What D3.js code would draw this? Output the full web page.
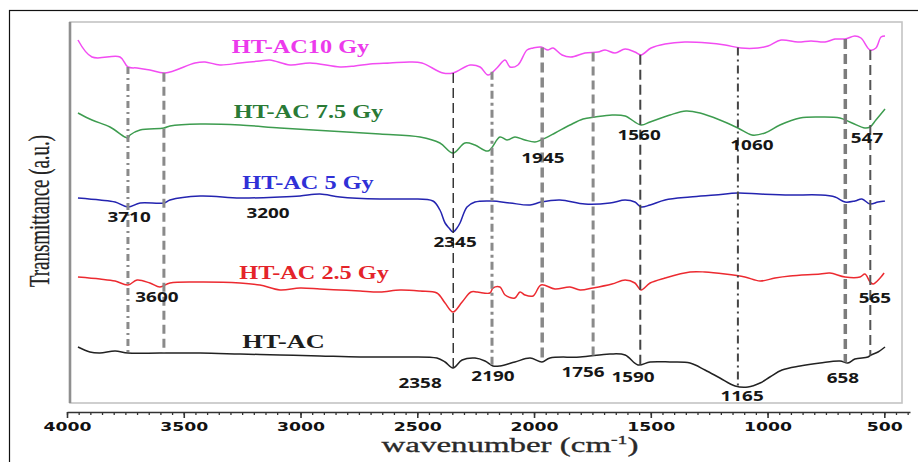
<!DOCTYPE html>
<html>
<head>
<meta charset="utf-8">
<script src="https://cdn.jsdelivr.net/npm/d3@7"></script>
<style>
  html, body { margin: 0; padding: 0; background: #fff; }
  svg { display: block; }
</style>
</head>
<body>
<svg id="chart" width="918" height="462"></svg>
<script>
// FTIR spectra of HT-AC samples: [wavenumber (cm^-1), offset transmittance (a.u.)]
const htAC10 = [[3953,363],[3893,346],[3773,346],[3739,336],[3700,335],[3645,333],[3580,330],[3452,340],[3409,341],[3345,338],[3259,340],[3174,342],[3131,343],[3045,338],[2959,340],[2831,336],[2767,337],[2702,339],[2617,340],[2531,341],[2480,340],[2390,330],[2347,330],[2274,338],[2231,336],[2197,328],[2159,335],[2124,343],[2103,336],[2069,338],[2030,353],[2004,355],[1970,356],[1940,353],[1919,355],[1880,348],[1842,346],[1782,350],[1726,351],[1696,353],[1653,350],[1610,354],[1568,351],[1542,348],[1499,355],[1439,359],[1354,361],[1255,360],[1182,358],[1114,355],[1041,355],[998,357],[942,363],[870,361],[814,362],[754,361],[711,364],[668,364],[626,367],[600,365],[561,353],[536,355],[514,366],[497,367]];
const htAC75 = [[3953,290],[3893,283],[3816,276],[3752,266],[3739,265],[3730,268],[3687,273],[3585,275],[3559,277],[3430,279],[3259,278],[3088,275],[2874,272],[2660,269],[2488,266],[2403,260],[2347,250],[2296,260],[2253,258],[2197,252],[2146,266],[2116,263],[2082,266],[2039,263],[1996,261],[1970,263],[1910,270],[1846,278],[1790,284],[1739,286],[1666,288],[1610,287],[1542,278],[1503,281],[1418,288],[1349,292],[1289,290],[1204,283],[1127,275],[1067,268],[1011,270],[947,278],[861,285],[775,286],[690,285],[638,280],[583,275],[561,276],[536,283],[497,294]];
const htAC5 = [[3953,205],[3859,203],[3794,201],[3739,196],[3687,200],[3585,200],[3559,203],[3430,207],[3259,205],[3088,206],[3002,207],[2917,209],[2831,206],[2660,204],[2531,204],[2433,202],[2403,193],[2381,180],[2364,175],[2347,171],[2330,175],[2317,180],[2287,196],[2253,201],[2180,202],[2103,200],[2017,198],[1970,201],[1889,203],[1782,199],[1675,200],[1610,203],[1568,201],[1542,196],[1503,198],[1439,203],[1332,206],[1225,208],[1127,210],[1032,209],[904,208],[775,208],[711,206],[668,201],[626,202],[596,204],[561,199],[527,201],[497,202]];
const htAC25 = [[3953,126],[3859,124],[3794,122],[3739,118],[3700,123],[3645,120],[3602,116],[3559,120],[3430,121],[3259,120],[3174,118],[3088,113],[3002,115],[2917,114],[2831,113],[2745,112],[2660,111],[2574,113],[2488,112],[2416,110],[2381,100],[2347,91],[2308,101],[2270,111],[2244,111],[2189,110],[2176,115],[2146,116],[2124,108],[2082,105],[2060,111],[2039,108],[2004,107],[1970,118],[1910,114],[1846,116],[1803,113],[1748,115],[1666,119],[1610,123],[1568,120],[1542,113],[1503,120],[1439,125],[1332,131],[1268,131],[1182,129],[1097,126],[1032,122],[968,125],[904,127],[775,129],[733,130],[668,126],[604,126],[583,129],[561,121],[548,119],[518,125],[501,130]];
const htAC = [[3953,56],[3902,51],[3859,50],[3794,52],[3739,50],[3602,50],[3430,50],[3259,49],[3088,48],[2917,47],[2745,46],[2574,46],[2416,45],[2381,41],[2347,35],[2308,43],[2253,45],[2210,42],[2176,37],[2146,37],[2082,41],[2017,45],[1966,41],[1932,45],[1803,46],[1675,49],[1610,48],[1555,38],[1503,41],[1418,41],[1332,40],[1268,33],[1204,25],[1139,17],[1084,16],[1032,20],[990,26],[938,33],[861,37],[775,40],[690,42],[656,40],[626,44],[570,46],[557,48],[527,51],[497,56]];

const seriesNames = ["HT-AC10 Gy", "HT-AC 7.5 Gy", "HT-AC 5 Gy", "HT-AC 2.5 Gy", "HT-AC"];
const seriesData = [htAC10, htAC75, htAC5, htAC25, htAC];
// where each series name sits, in data units [wavenumber, a.u.]
const seriesNameAt = [[3000,356],[2966,291],[2968,220],[2942,130],[3073,62]];

const xTickValues = [4000, 3500, 3000, 2500, 2000, 1500, 1000, 500];

// band positions marked across all spectra (cm^-1)
const bandLines = [3739, 3585, 2346, 2180, 1965, 1747, 1545, 1127, 667, 560];
// band assignments written next to the spectra: [text, wavenumber, a.u.]
const bandLabels = [
  ["3710", 3734, 186], ["3200", 3139, 190], ["3600", 3615, 106],
  ["2345", 2338, 161], ["2358", 2488, 20], ["2190", 2176, 27],
  ["1945", 1962, 245], ["1560", 1550, 268], ["1060", 1067, 258],
  ["547", 574, 265], ["565", 540, 105], ["1756", 1790, 31],
  ["1590", 1576, 26], ["1165", 1109, 7], ["658", 677, 25]
];

// ---- drawing ----
const seriesColor = ["#f24cf2", "#3d9c4f", "#2424b0", "#ec2a30", "#222222"];
const nameColor   = ["#ec3aec", "#2a7a36", "#3030d6", "#e4242a", "#1e1e1e"];
const nameSize    = [18, 18, 18, 18, 19.5];
const bandLook = [
  { c: "#8a8a8a", w: 3,   d: "7,4,2,4" },
  { c: "#8a8a8a", w: 3,   d: "9,5" },
  { c: "#2a2a2a", w: 1.4, d: "10,5" },
  { c: "#8a8a8a", w: 3,   d: "8,4,3,4" },
  { c: "#888888", w: 3.5, d: "10,5" },
  { c: "#8a8a8a", w: 3,   d: "9,5" },
  { c: "#444444", w: 2,   d: "10,5" },
  { c: "#444444", w: 2,   d: "8,4,2,4" },
  { c: "#7c7c7c", w: 3.5, d: "10,5" },
  { c: "#555555", w: 2,   d: "10,5" }
];
const stretch = 1.35;

const svg = d3.select("#chart");

const x = d3.scaleLinear().domain([4000, 390]).range([67, 910]);
const y = d3.scaleLinear().domain([0, 381]).range([403, 22]);

// outer frame (only top and left edges fall inside the page)
svg.append("rect")
  .attr("x", 9.5).attr("y", 10.5).attr("width", 1200).attr("height", 1200)
  .attr("fill", "none").attr("stroke", "#111").attr("stroke-width", 1.2);

// plot box
const [x0, x1] = [70, 902];
svg.append("rect")
  .attr("x", x0).attr("y", y(381)).attr("width", x1 - x0).attr("height", y(0) - y(381))
  .attr("fill", "none").attr("stroke", "#c4c4c4").attr("stroke-width", 1.6);
svg.append("line")
  .attr("x1", x0).attr("x2", x0).attr("y1", y(381)).attr("y2", y(0))
  .attr("stroke", "#8f8f8f").attr("stroke-width", 2.6);

// spectra
const line = d3.line()
  .x(d => x(d[0])).y(d => y(d[1]))
  .curve(d3.curveCatmullRom.alpha(0.5));

svg.append("g").selectAll("path")
  .data(seriesData)
  .join("path")
  .attr("d", line)
  .attr("fill", "none")
  .attr("stroke", (d, i) => seriesColor[i])
  .attr("stroke-width", 1.5)
  .attr("stroke-linejoin", "round");

// linear read-off of a spectrum at a given wavenumber
function valueAt(series, wn) {
  for (let i = 0; i < series.length - 1; i++) {
    const [a, va] = series[i], [b, vb] = series[i + 1];
    if ((wn <= a && wn >= b) || (wn >= a && wn <= b)) {
      return va + (vb - va) * (wn - a) / (b - a);
    }
  }
  return series[series.length - 1][1];
}

// band lines run from the top spectrum down to the bottom one
svg.append("g").selectAll("line")
  .data(bandLines)
  .join("line")
  .attr("x1", d => x(d)).attr("x2", d => x(d))
  .attr("y1", d => y(valueAt(htAC10, d)))
  .attr("y2", d => y(valueAt(htAC, d)))
  .attr("stroke", (d, i) => bandLook[i].c)
  .attr("stroke-width", (d, i) => bandLook[i].w)
  .attr("stroke-dasharray", (d, i) => bandLook[i].d);

// series names
svg.append("g").selectAll("text")
  .data(seriesNames)
  .join("text")
  .attr("transform", (d, i) => `translate(${x(seriesNameAt[i][0])},${y(seriesNameAt[i][1])}) scale(${stretch},1)`)
  .attr("text-anchor", "middle")
  .attr("dominant-baseline", "central")
  .attr("font-family", "'Liberation Serif', 'Times New Roman', serif")
  .attr("font-weight", "bold")
  .attr("font-size", (d, i) => nameSize[i])
  .attr("fill", (d, i) => nameColor[i])
  .text(d => d);

// band labels
svg.append("g").selectAll("text")
  .data(bandLabels)
  .join("text")
  .attr("transform", d => `translate(${x(d[1])},${y(d[2])}) scale(${stretch},1)`)
  .attr("text-anchor", "middle")
  .attr("dominant-baseline", "central")
  .attr("font-family", "'Open Sans', 'DejaVu Sans', sans-serif")
  .attr("font-weight", 700)
  .attr("font-size", 14)
  .attr("fill", "#161616")
  .text(d => d[0]);

// x axis
const axisY = 412;
const minor = svg.append("g").attr("transform", `translate(0,${axisY})`)
  .call(d3.axisBottom(x).tickValues(d3.range(4000, 389, -50)).tickSize(3).tickSizeOuter(0).tickFormat(""));
minor.select(".domain").remove();
minor.selectAll("line").attr("stroke", "#333").attr("stroke-width", 1.3);

const axis = svg.append("g").attr("transform", `translate(0,${axisY})`)
  .call(d3.axisBottom(x).tickValues(xTickValues).tickSize(6).tickSizeOuter(0).tickFormat(d3.format("d")));
axis.select(".domain").attr("stroke", "#333").attr("stroke-width", 1.6);
axis.selectAll(".tick line").attr("stroke", "#333").attr("stroke-width", 1.6);
axis.selectAll(".tick text")
  .attr("y", 10).attr("dy", "0.71em")
  .attr("transform", "scale(1.33,1)")
  .attr("font-family", "'DejaVu Sans', sans-serif")
  .attr("font-weight", "bold")
  .attr("font-size", 13)
  .attr("fill", "#111");

// axis titles
const xTitle = svg.append("text")
  .attr("text-anchor", "middle")
  .attr("font-family", "'Liberation Serif', 'Times New Roman', serif")
  .attr("font-size", 20)
  .attr("fill", "#2a2a2a")
  .attr("stroke", "#2a2a2a").attr("stroke-width", 0.3);
xTitle.append("tspan").text("wavenumber (cm");
xTitle.append("tspan").attr("dy", -8).attr("font-size", 12).text("-1");
xTitle.append("tspan").attr("dy", 8).text(")");
// widen the title to span the axis centre
const xTitleW = xTitle.node().getBBox().width;
xTitle.attr("transform", `translate(510,452) scale(${257 / xTitleW},1)`);

svg.append("text")
  .attr("transform", "translate(49,211) rotate(-90) scale(0.86,1.35)")
  .attr("text-anchor", "middle")
  .attr("font-family", "'Liberation Serif', 'Times New Roman', serif")
  .attr("font-size", 22)
  .attr("fill", "#222")
  .attr("stroke", "#222").attr("stroke-width", 0.2)
  .text("Transmittance (a.u.)");
</script>
</body>
</html>
